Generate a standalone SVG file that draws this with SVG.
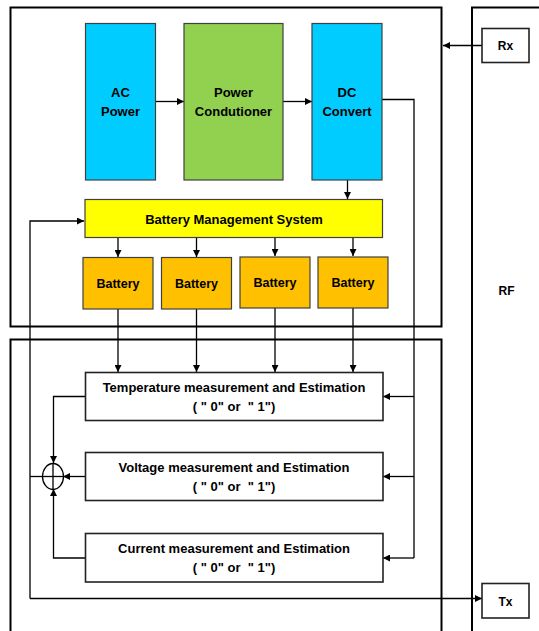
<svg xmlns="http://www.w3.org/2000/svg" width="539" height="631" viewBox="0 0 539 631">
<style>
text{font-family:"Liberation Sans",Arial,sans-serif;font-weight:bold;fill:#000;text-anchor:middle}
.t13{font-size:13px}
.t12{font-size:12px}
.t125{font-size:12.5px}
.frame{fill:none;stroke:#000;stroke-width:2}
.box{stroke:#404040;stroke-width:1.2}
.wbox{fill:#fff;stroke:#222;stroke-width:1.6}
.ln{fill:none;stroke:#000;stroke-width:1.3}
</style>
<defs>
<marker id="ah" viewBox="0 0 10 10" refX="10" refY="5" markerWidth="7" markerHeight="7" orient="auto" markerUnits="userSpaceOnUse">
<path d="M0,0 L10,5 L0,10 z" fill="#000"/>
</marker>
</defs>
<rect width="539" height="631" fill="#fff"/>
<g id="frames">
<rect class="frame" x="10.5" y="7.5" width="431" height="319"/>
<rect class="frame" x="10.5" y="339.5" width="431" height="300"/>
<rect class="frame" x="472" y="7.5" width="90" height="640"/>
</g>
<g id="connectors">
<line class="ln" x1="482" y1="45.5" x2="443" y2="45.5" marker-end="url(#ah)"/>
<line class="ln" x1="156" y1="101.5" x2="184" y2="101.5" marker-end="url(#ah)"/>
<line class="ln" x1="283" y1="101.5" x2="312" y2="101.5" marker-end="url(#ah)"/>
<line class="ln" x1="347.5" y1="180" x2="347.5" y2="199" marker-end="url(#ah)"/>
<line class="ln" x1="118" y1="238" x2="118" y2="257" marker-end="url(#ah)"/>
<line class="ln" x1="196.5" y1="238" x2="196.5" y2="257" marker-end="url(#ah)"/>
<line class="ln" x1="275" y1="238" x2="275" y2="256" marker-end="url(#ah)"/>
<line class="ln" x1="353" y1="238" x2="353" y2="256" marker-end="url(#ah)"/>
<line class="ln" x1="118" y1="309" x2="118" y2="372" marker-end="url(#ah)"/>
<line class="ln" x1="196.5" y1="309" x2="196.5" y2="372" marker-end="url(#ah)"/>
<line class="ln" x1="275" y1="308" x2="275" y2="372" marker-end="url(#ah)"/>
<line class="ln" x1="353" y1="308" x2="353" y2="372" marker-end="url(#ah)"/>
<polyline class="ln" points="382,99.5 414,99.5 414,558"/>
<line class="ln" x1="414" y1="396.5" x2="383" y2="396.5" marker-end="url(#ah)"/>
<line class="ln" x1="414" y1="476.5" x2="383" y2="476.5" marker-end="url(#ah)"/>
<line class="ln" x1="414" y1="558" x2="383" y2="558" marker-end="url(#ah)"/>
<polyline class="ln" points="85.5,396.5 53.5,396.5 53.5,463" marker-end="url(#ah)"/>
<line class="ln" x1="85.5" y1="476.5" x2="63" y2="476.5" marker-end="url(#ah)"/>
<polyline class="ln" points="85.5,558 53.5,558 53.5,489" marker-end="url(#ah)"/>
<line class="ln" x1="30" y1="476.5" x2="42" y2="476.5"/>
<polyline class="ln" points="30,598.5 30,221 84,221" marker-end="url(#ah)"/>
<line class="ln" x1="30" y1="598.5" x2="482" y2="598.5" marker-end="url(#ah)"/>
</g>
<g id="sum">
<ellipse cx="53" cy="476.5" rx="10.5" ry="13" fill="#fff" stroke="#000" stroke-width="1.3"/>
<line class="ln" x1="42.5" y1="476.5" x2="63.5" y2="476.5"/>
<line class="ln" x1="53" y1="463.5" x2="53" y2="489.5"/>
</g>
<g id="ac-power">
<rect class="box" x="85.5" y="23.5" width="70" height="156.5" fill="#00CCFF"/>
<text class="t13" x="120.5" y="97">AC</text>
<text class="t13" x="120.5" y="116">Power</text>
</g>
<g id="power-conditioner">
<rect class="box" x="184" y="23.5" width="99" height="156.5" fill="#92D050"/>
<text class="t13" x="233.5" y="97">Power</text>
<text class="t13" x="233.5" y="116">Condutioner</text>
</g>
<g id="dc-convert">
<rect class="box" x="312" y="23.5" width="70" height="156.5" fill="#00CCFF"/>
<text class="t13" x="347" y="97">DC</text>
<text class="t13" x="347" y="116">Convert</text>
</g>
<g id="bms">
<rect class="box" x="85" y="199.5" width="297.5" height="38" fill="#FFFF00"/>
<text class="t13" x="234" y="223.5">Battery Management System</text>
</g>
<g id="battery1">
<rect class="box" x="83" y="257.5" width="70" height="51.5" fill="#FFC000"/>
<text class="t125" x="118" y="287.5">Battery</text>
</g>
<g id="battery2">
<rect class="box" x="161.5" y="257.5" width="70" height="51.5" fill="#FFC000"/>
<text class="t125" x="196.5" y="287.5">Battery</text>
</g>
<g id="battery3">
<rect class="box" x="240" y="257" width="70" height="51" fill="#FFC000"/>
<text class="t125" x="275" y="286.5">Battery</text>
</g>
<g id="battery4">
<rect class="box" x="318" y="257" width="70" height="51" fill="#FFC000"/>
<text class="t125" x="353" y="286.5">Battery</text>
</g>
<g id="temperature">
<rect class="wbox" x="85.5" y="372.5" width="297.5" height="48"/>
<text class="t13" x="234" y="391.5">Temperature measurement and Estimation</text>
<text class="t13" x="234" y="411" xml:space="preserve">( " 0" or  " 1")</text>
</g>
<g id="voltage">
<rect class="wbox" x="85.5" y="452.5" width="297.5" height="48"/>
<text class="t13" x="234" y="471.5">Voltage measurement and Estimation</text>
<text class="t13" x="234" y="491" xml:space="preserve">( " 0" or  " 1")</text>
</g>
<g id="current">
<rect class="wbox" x="85.5" y="533.5" width="297.5" height="48.5"/>
<text class="t13" x="234" y="552.5">Current measurement and Estimation</text>
<text class="t13" x="234" y="572" xml:space="preserve">( " 0" or  " 1")</text>
</g>
<g id="rx">
<rect class="wbox" x="482" y="28.5" width="47" height="34"/>
<text class="t12" x="505.5" y="50">Rx</text>
</g>
<g id="tx">
<rect class="wbox" x="482" y="583.5" width="47" height="34.5"/>
<text class="t12" x="505.5" y="605.5">Tx</text>
</g>
<g id="rf">
<text class="t12" x="506.5" y="295">RF</text>
</g>
</svg>
